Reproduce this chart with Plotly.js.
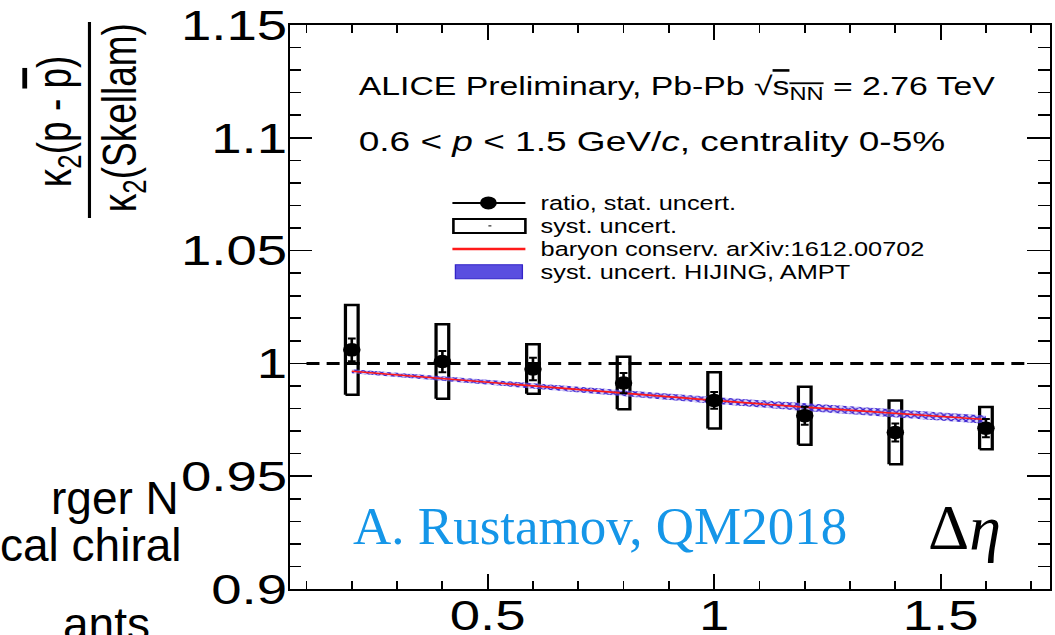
<!DOCTYPE html>
<html>
<head>
<meta charset="utf-8">
<script src="https://cdn.plot.ly/plotly-3.0.1.min.js"></script>
<style>
  html, body { margin: 0; padding: 0; background: #ffffff; overflow: hidden; }
  #page { position: relative; width: 1055px; height: 635px; overflow: hidden; }
  /* the ALICE figure is drawn narrow and widened to the slide width */
  #figure { position: absolute; left: 0; top: 0; width: 812px; height: 635px; transform-origin: 0 0; }
  #overlay { position: absolute; left: 0; top: 0; width: 1055px; height: 635px; pointer-events: none; }
</style>
</head>
<body>
<div id="page">
  <div id="figure"></div>
  <div id="overlay"></div>
</div>
<script>
// ---- data: ratio of kappa_2(p - pbar) to the Skellam baseline vs. Delta eta ----
const delta_eta   = [0.2, 0.4, 0.6, 0.8, 1.0, 1.2, 1.4, 1.6];
const ratio       = [1.0060, 1.0008, 0.9975, 0.9913, 0.9836, 0.9768, 0.9694, 0.9713];
const stat_err    = [0.0050, 0.0047, 0.0050, 0.0045, 0.0037, 0.0040, 0.0040, 0.0040];
const syst_err    = [0.0199, 0.0165, 0.0110, 0.0116, 0.0125, 0.0129, 0.0141, 0.0094];

// baryon number conservation (arXiv:1612.00702) and the HIJING / AMPT band
const model_eta   = [0.2, 0.4, 0.6, 0.8, 1.0, 1.2, 1.4, 1.6];
const baryon_cons = [0.9965, 0.9932, 0.9900, 0.9868, 0.9836, 0.9806, 0.9778, 0.9751];
const hijing_hi   = [0.9974, 0.9942, 0.9911, 0.9881, 0.9851, 0.9823, 0.9796, 0.9769];
const hijing_lo   = [0.9956, 0.9922, 0.9889, 0.9855, 0.9821, 0.9789, 0.9760, 0.9733];

// unity reference
const unity_eta   = [0.1, 1.7];
const unity_val   = [1.0, 1.0];

// axis settings
const x_range = [0.063, 1.741];
const y_range = [0.9, 1.15];

// legend entries
const legend_labels = [
  'ratio, stat. uncert.',
  'syst. uncert.',
  'baryon conserv. arXiv:1612.00702',
  'syst. uncert. HIJING, AMPT'
];

// ---- geometry of the widened figure ----
const W = 812, H = 635;
const S = 1055 / W;                 // horizontal widening
document.getElementById('figure').style.transform = 'scaleX(' + S + ')';
const LEFT = 289.3, RIGHT = 1049.5, TOP = 25, BOTTOM = 589.3;   // plot frame on the slide
const mL = LEFT / S, mR = W - RIGHT / S, mT = TOP, mB = H - BOTTOM;
const PW = W - mL - mR, PH = H - mT - mB;
// slide pixel -> paper fraction of the widened figure
const px = xs => (xs / S - mL) / PW;
const py = ys => (BOTTOM - ys) / PH;

const SANS = 'Liberation Sans, Arial, Helvetica, sans-serif';
const SERIF = 'Liberation Serif, Times New Roman, serif';

// systematic boxes as closed outlines around each point
const boxHalf = 0.014;
const boxX = [], boxY = [];
delta_eta.forEach((x, i) => {
  const lo = ratio[i] - syst_err[i], hi = ratio[i] + syst_err[i];
  boxX.push(x - boxHalf, x + boxHalf, x + boxHalf, x - boxHalf, x - boxHalf, null);
  boxY.push(lo, lo, hi, hi, lo, null);
});

const traces = [
  { // unity line
    x: unity_eta, y: unity_val, mode: 'lines', hoverinfo: 'skip',
    line: { color: '#000000', width: 3, dash: '10px,5.5px' }
  },
  { // systematic uncertainty boxes
    x: boxX, y: boxY, mode: 'lines', hoverinfo: 'skip',
    line: { color: '#000000', width: 2.5 }
  },
  { // HIJING / AMPT band
    x: model_eta.concat(model_eta.slice().reverse()),
    y: hijing_hi.concat(hijing_lo.slice().reverse()),
    mode: 'lines', fill: 'toself', hoverinfo: 'skip',
    line: { width: 0, color: 'rgba(0,0,0,0)' },
    fillcolor: 'rgba(150,135,240,0.55)',
    fillpattern: { shape: 'x', size: 4, solidity: 0.5, fgcolor: '#3a22d0', bgcolor: 'rgba(190,180,250,0.5)' }
  },
  { // baryon conservation
    x: model_eta, y: baryon_cons, mode: 'lines', hoverinfo: 'skip',
    line: { color: '#ff1a1a', width: 1.6 }
  },
  { // measured ratio with statistical errors
    x: delta_eta, y: ratio, mode: 'markers', hoverinfo: 'skip',
    marker: { symbol: 'circle', size: 13.5, color: '#000000' },
    error_y: { type: 'data', array: stat_err, visible: true, color: '#000000', thickness: 2, width: 3 }
  }
];

// legend drawn as shapes + text
const rowY = [203, 226, 249, 272];
const symX0 = 452, symX1 = 525, textX = 537;
const shapes = [
  { type: 'line', xref: 'paper', yref: 'paper', x0: px(symX0), x1: px(symX1), y0: py(rowY[0]), y1: py(rowY[0]),
    line: { color: '#000', width: 2 } },
  { type: 'circle', xref: 'paper', yref: 'paper',
    x0: px(488) - 6.5 / PW, x1: px(488) + 6.5 / PW, y0: py(rowY[0]) - 6.5 / PH, y1: py(rowY[0]) + 6.5 / PH,
    fillcolor: '#000', line: { color: '#000', width: 0 } },
  { type: 'rect', xref: 'paper', yref: 'paper', x0: px(symX0 + 1), x1: px(symX1), y0: py(rowY[1] - 7), y1: py(rowY[1] + 7),
    fillcolor: 'rgba(0,0,0,0)', line: { color: '#000', width: 2 } },
  { type: 'line', xref: 'paper', yref: 'paper', x0: px(488), x1: px(491), y0: py(rowY[1]), y1: py(rowY[1]),
    line: { color: '#000', width: 1 } },
  { type: 'line', xref: 'paper', yref: 'paper', x0: px(symX0), x1: px(symX1), y0: py(rowY[2]), y1: py(rowY[2]),
    line: { color: '#ff1a1a', width: 2.5 } },
  { type: 'rect', xref: 'paper', yref: 'paper', x0: px(455), x1: px(522), y0: py(rowY[3] - 7), y1: py(rowY[3] + 7),
    fillcolor: '#5a4ee0', line: { color: '#3324c8', width: 1 } },
  // fraction bar of the y title
  { type: 'line', xref: 'paper', yref: 'paper', x0: px(89), x1: px(89), y0: py(22), y1: py(218),
    line: { color: '#000', width: 2.4 } }
];

const annotations = legend_labels.map((t, i) => ({
  xref: 'paper', yref: 'paper', x: px(textX), y: py(rowY[i]), xanchor: 'left', yanchor: 'middle',
  text: t, showarrow: false, font: { family: SANS, size: 19.5, color: '#000' }
}));
annotations.push(
  { xref: 'paper', yref: 'paper', x: px(356), y: py(88), xanchor: 'left', yanchor: 'middle', showarrow: false,
    text: 'ALICE Preliminary, Pb-Pb √<span style="text-decoration:overline">s<sub>NN</sub></span> = 2.76 TeV',
    font: { family: SANS, size: 26, color: '#000' } },
  { xref: 'paper', yref: 'paper', x: px(356), y: py(141), xanchor: 'left', yanchor: 'middle', showarrow: false,
    text: '0.6 < <i>p</i> < 1.5 GeV/<i>c</i>, centrality 0-5%',
    font: { family: SANS, size: 28.5, color: '#000' } },
  // y title as a fraction
  { xref: 'paper', yref: 'paper', x: px(57), y: py(121), xanchor: 'center', yanchor: 'middle', showarrow: false,
    textangle: -90, text: 'κ<sub>2</sub>(p - <span style="text-decoration:overline">p</span>)',
    font: { family: SANS, size: 37, color: '#000' } },
  { xref: 'paper', yref: 'paper', x: px(122), y: py(118), xanchor: 'center', yanchor: 'middle', showarrow: false,
    textangle: -90, text: 'κ<sub>2</sub>(Skellam)',
    font: { family: SANS, size: 37, color: '#000' } }
);

const axisCommon = {
  showline: true, linecolor: '#000', linewidth: 1.6, mirror: 'allticks',
  ticks: 'inside', tickcolor: '#000', tickwidth: 1.4,
  showgrid: false, zeroline: false, fixedrange: true,
  tickfont: { family: SANS, size: 42, color: '#000' }
};

const layout = {
  width: W, height: H,
  margin: { l: mL, r: mR, t: mT, b: mB, pad: 0 },
  paper_bgcolor: '#ffffff', plot_bgcolor: '#ffffff',
  showlegend: false,
  xaxis: Object.assign({}, axisCommon, {
    range: x_range, tick0: 0, dtick: 0.5, ticklen: 15, ticklabelstandoff: -11,
    minor: { ticks: 'inside', tick0: 0, dtick: 0.1, ticklen: 8, tickwidth: 1.4, tickcolor: '#000', showgrid: false }
  }),
  yaxis: Object.assign({}, axisCommon, {
    range: y_range, tick0: 0, dtick: 0.05, ticklen: 17.5, tickwidth: 1.6, ticklabelstandoff: -8,
    minor: { ticks: 'inside', tick0: 0, dtick: 0.01, ticklen: 9, tickwidth: 1.6, tickcolor: '#000', showgrid: false }
  }),
  shapes: shapes,
  annotations: annotations
};

Plotly.newPlot('figure', traces, layout, { staticPlot: true, displayModeBar: false });

// ---- slide text laid over the figure (not widened) ----
const overlayLayout = {
  width: 1055, height: 635,
  margin: { l: 0, r: 0, t: 0, b: 0 },
  paper_bgcolor: 'rgba(0,0,0,0)', plot_bgcolor: 'rgba(0,0,0,0)',
  xaxis: { visible: false, range: [0, 1] }, yaxis: { visible: false, range: [0, 1] },
  showlegend: false,
  annotations: [
    { xref: 'paper', yref: 'paper', x: 351 / 1055, y: 1 - 526 / 635, xanchor: 'left', yanchor: 'middle', showarrow: false,
      text: 'A. Rustamov, QM2018', font: { family: SERIF, size: 53, color: '#1596e8' } },
    { xref: 'paper', yref: 'paper', x: 926 / 1055, y: 1 - 527 / 635, xanchor: 'left', yanchor: 'middle', showarrow: false,
      text: 'Δ<i>η</i>', font: { family: SERIF, size: 64, color: '#000' } },
    { xref: 'paper', yref: 'paper', x: 181 / 1055, y: 1 - 498 / 635, xanchor: 'right', yanchor: 'middle', showarrow: false,
      text: 'rger N', font: { family: SANS, size: 46, color: '#000' } },
    { xref: 'paper', yref: 'paper', x: 184 / 1055, y: 1 - 545 / 635, xanchor: 'right', yanchor: 'middle', showarrow: false,
      text: 'cal chiral', font: { family: SANS, size: 46, color: '#000' } },
    { xref: 'paper', yref: 'paper', x: 152 / 1055, y: 1 - 624 / 635, xanchor: 'right', yanchor: 'middle', showarrow: false,
      text: 'ants', font: { family: SANS, size: 46, color: '#000' } }
  ]
};
Plotly.newPlot('overlay', [], overlayLayout, { staticPlot: true, displayModeBar: false });
</script>
</body>
</html>
